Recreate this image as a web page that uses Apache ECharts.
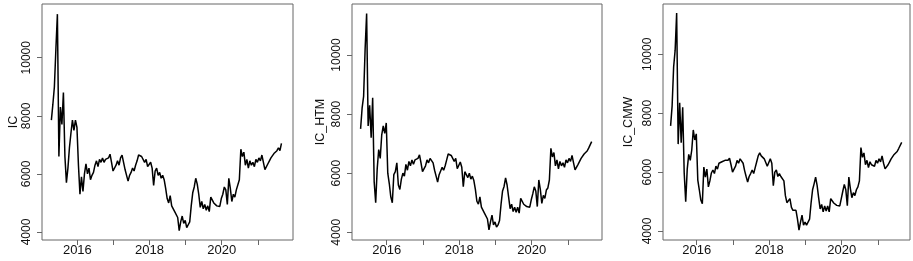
<!DOCTYPE html>
<html>
<head>
<meta charset="utf-8">
<script src="https://cdn.jsdelivr.net/npm/echarts@6/dist/echarts.min.js"></script>
<style>
  html, body { margin: 0; padding: 0; background: #fff; }
  #chart { width: 913px; height: 261px; }
</style>
</head>
<body>
<div id="chart"></div>
<script>
// semi-monthly samples, first one mid April 2015
const startYear = 2015.28
const samplesPerYear = 24

const seriesNames = ['IC', 'IC_HTM', 'IC_CMW']

const icValues = [
  7850, 8400, 9000, 10300, 11500, 6600, 8300, 7700, 8800, 6600, 5700, 6200, 6900, 7400, 7850, 7500, 7850, 7600,
  6300, 5300, 5900, 5400, 6000, 6350, 6000, 6200, 5800, 5950, 6050, 6300, 6450, 6250, 6500, 6400, 6550, 6400, 6500, 6450, 6550, 6680, 6400, 6100,
  6050, 6300, 6450, 6300, 6550, 6650, 6400, 6150, 5950, 5750, 5950, 6050, 6200, 6100, 6300, 6450, 6650, 6700, 6600, 6650, 6400, 6500, 6250, 6200,
  6400, 6200, 5600, 6100, 6200, 5950, 6050, 5850, 5950, 5800, 5500, 5150, 5000, 5250, 4900, 4850, 4700, 4750, 4500, 4050, 4350, 4550, 4300, 4400,
  4150, 4250, 4350, 4900, 5350, 5550, 5850, 5650, 5300, 4850, 5050, 4800, 4950, 4750, 4900, 4700, 5200, 5150, 5000, 5050, 4900, 4950, 4880, 5150,
  5300, 5550, 5450, 4950, 5850, 5500, 5050, 5300, 5200, 5450, 5500, 5800, 6850, 6600, 6750, 6300, 6500, 6200, 6450, 6300, 6400, 6250, 6500, 6400,
  6550, 6450, 6650, 6400, 6150, 6200, 6350, 6450, 6550, 6600, 6700, 6750, 6800, 6900, 6800, 7050
]

const htmValues = [
  7500, 8200, 8600, 10200, 11400, 7600, 8300, 7200, 8550, 5700, 5000, 6150, 6800, 6500, 7300, 7600, 7350, 7700,
  6000, 5650, 5200, 5000, 5950, 6050, 6350, 5600, 5450, 5800, 6000, 5900, 6300, 6100, 6400, 6250, 6450, 6300, 6450, 6400, 6500, 6620, 6350, 6050,
  6000, 6250, 6450, 6350, 6500, 6560, 6350, 6100, 5900, 5700, 5950, 6000, 6200, 6100, 6250, 6450, 6650, 6700, 6600, 6650, 6400, 6500, 6150, 6200,
  6380, 6200, 5540, 6050, 6000, 5850, 6000, 5800, 5900, 5750, 5450, 5050, 4950, 5200, 4850, 4750, 4650, 4700, 4450, 4080, 4350, 4580, 4250, 4350,
  4180, 4250, 4400, 4950, 5400, 5550, 5840, 5600, 5200, 4800, 4950, 4700, 4850, 4680, 4850, 4650, 5150, 5100, 4950, 5000, 4870, 4900, 4850, 5100,
  5300, 5540, 5400, 4870, 5770, 5450, 4980, 5250, 5150, 5430, 5500, 5770, 6840, 6550, 6700, 6250, 6450, 6150, 6400, 6250, 6350, 6200, 6450, 6350,
  6500, 6400, 6600, 6350, 6110, 6150, 6300, 6400, 6500, 6550, 6650, 6700, 6750, 6850, 6800, 7070
]

const cmwValues = [
  7570, 8250, 9570, 10140, 11400, 6950, 8350, 7000, 8200, 5970, 4990, 6100, 6600, 6400, 6750, 7430, 7090, 7300,
  5730, 5400, 5050, 4930, 6170, 5830, 6100, 5500, 5700, 5970, 6070, 5950, 6200, 6100, 6300, 6250, 6350, 6300, 6400, 6350, 6400, 6470, 6250, 6000,
  6000, 6200, 6400, 6300, 6450, 6450, 6300, 6050, 5850, 5660, 5850, 5950, 6070, 5950, 6150, 6350, 6550, 6650, 6550, 6600, 6450, 6450, 6200, 6200,
  6450, 6300, 5540, 6000, 6070, 5850, 5950, 5850, 5900, 5700, 5200, 4960, 4900, 5100, 4800, 4700, 4650, 4700, 4400, 4030, 4300, 4540, 4200, 4300,
  4200, 4250, 4400, 4950, 5400, 5600, 5830, 5550, 5130, 4750, 4900, 4650, 4850, 4680, 4850, 4650, 5100, 5050, 4950, 5000, 4870, 4900, 4850, 5100,
  5350, 5580, 5400, 4860, 5830, 5450, 5130, 5300, 5200, 5400, 5500, 5700, 6830, 6500, 6650, 6250, 6400, 6150, 6350, 6250, 6300, 6200, 6400, 6300,
  6450, 6350, 6550, 6300, 6110, 6150, 6250, 6350, 6450, 6500, 6600, 6650, 6700, 6800, 6750, 7010
]

const yTicks = [4000, 6000, 8000, 10000]
const xTicks = [2016, 2017, 2018, 2019, 2020, 2021]
const xLabels = [2016, 2018, 2020]

// panel boxes and axis ranges, one entry per panel
const panels = [
  { left: 42, width: 251, xMin: 2015.02, xMax: 2021.975, yMin: 3725, yMax: 11849, nameGap: 22 },
  { left: 352, width: 250, xMin: 2015.043, xMax: 2021.94, yMin: 3739, yMax: 11726, nameGap: 25 },
  { left: 663, width: 247, xMin: 2015.07, xMax: 2021.884, yMin: 3694, yMax: 11708, nameGap: 28 }
]

const allValues = [icValues, htmValues, cmwValues]

const boxColor = '#666'
const textColor = '#111'

const chart = echarts.init(document.getElementById('chart'), null, { renderer: 'canvas' })

const toPairs = vals => vals.map((v, i) => [startYear + i / samplesPerYear, v])

chart.setOption({
  animation: false,
  grid: panels.map(p => ({
    left: p.left, top: 4, width: p.width, height: 236,
    show: true, borderColor: boxColor, borderWidth: 1, backgroundColor: 'transparent'
  })),
  xAxis: panels.map((p, i) => ({
    type: 'value', gridIndex: i, min: p.xMin, max: p.xMax,
    axisLine: { show: false },
    splitLine: { show: false },
    axisTick: { show: true, length: 5, customValues: xTicks, lineStyle: { color: boxColor } },
    axisLabel: {
      customValues: xLabels, margin: 4, color: textColor,
      fontFamily: "'Liberation Sans Narrow', 'Liberation Sans', Arial, sans-serif", fontSize: 13,
      formatter: v => String(v)
    }
  })),
  yAxis: panels.map((p, i) => ({
    type: 'value', gridIndex: i, min: p.yMin, max: p.yMax,
    name: seriesNames[i], nameLocation: 'middle', nameGap: p.nameGap,
    nameTextStyle: { color: textColor, fontFamily: "'Liberation Sans', Arial, sans-serif", fontSize: 12.5 },
    axisLine: { show: false },
    splitLine: { show: false },
    axisTick: { show: true, length: 5, customValues: yTicks, lineStyle: { color: boxColor } },
    axisLabel: {
      customValues: yTicks, rotate: 90, margin: 9, color: textColor,
      fontFamily: "'Liberation Sans', Arial, sans-serif", fontSize: 12,
      formatter: v => String(v)
    }
  })),
  series: allValues.map((vals, i) => ({
    type: 'line', xAxisIndex: i, yAxisIndex: i,
    data: toPairs(vals),
    showSymbol: false,
    lineStyle: { color: '#000', width: 1.5 }
  }))
})
</script>
</body>
</html>
